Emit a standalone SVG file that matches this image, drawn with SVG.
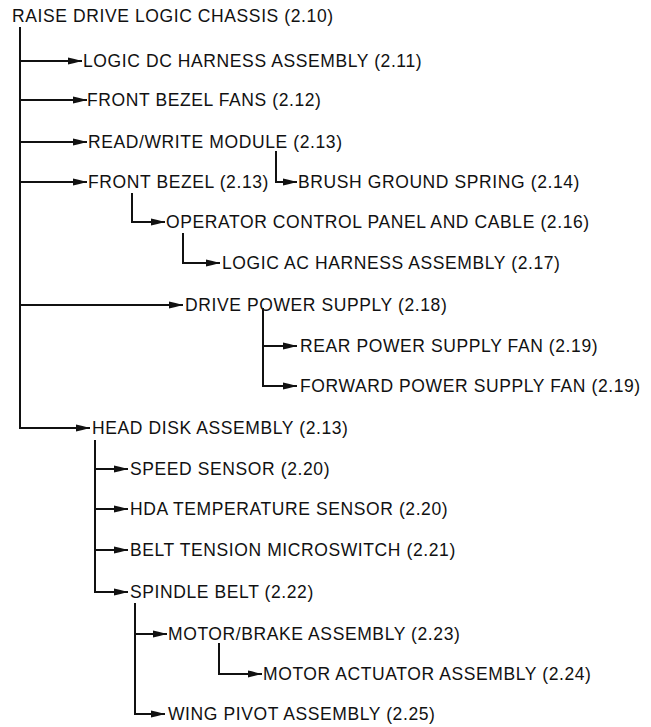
<svg xmlns="http://www.w3.org/2000/svg" width="651" height="727" viewBox="0 0 651 727">
<style>
text{font-family:"Liberation Sans",Arial,Helvetica,sans-serif;font-size:17.5px;letter-spacing:0.6px;fill:#111}
.c path{fill:none;stroke:#111;stroke-width:2;marker-end:url(#ah)}
</style>
<defs>
<marker id="ah" viewBox="0 0 14 8" refX="14" refY="4" markerWidth="14" markerHeight="8" markerUnits="userSpaceOnUse" orient="auto">
<path d="M0,0.6 Q6,1.8 14,4 Q6,6.2 0,7.4 Z" fill="#111"/>
</marker>
</defs>
<rect width="651" height="727" fill="#fff"/>
<g class="c" id="connectors">
<path d="M20,27 V428 H90"/>
<path d="M20,61 H82"/>
<path d="M20,100 H87"/>
<path d="M20,142 H87"/>
<path d="M20,182 H87"/>
<path d="M20,305 H183"/>
<path d="M276,151 V182 H297"/>
<path d="M132,193 V222 H165"/>
<path d="M183,233 V263 H220"/>
<path d="M263,308 V386 H297"/>
<path d="M263,346 H297"/>
<path d="M95,440 V592 H128"/>
<path d="M95,469 H128"/>
<path d="M95,509 H128"/>
<path d="M95,550 H128"/>
<path d="M135,603 V714 H165"/>
<path d="M135,634 H167"/>
<path d="M219,643 V674 H262"/>
</g>
<g id="n-raise"><text x="12" y="22">RAISE DRIVE LOGIC CHASSIS (2.10)</text></g>
<g id="n-logicdc"><text x="83" y="67">LOGIC DC HARNESS ASSEMBLY (2.11)</text></g>
<g id="n-fans"><text x="87" y="106">FRONT BEZEL FANS (2.12)</text></g>
<g id="n-rw"><text x="88" y="148">READ/WRITE MODULE (2.13)</text></g>
<g id="n-bezel"><text x="88" y="188">FRONT BEZEL (2.13)</text></g>
<g id="n-brush"><text x="298" y="188">BRUSH GROUND SPRING (2.14)</text></g>
<g id="n-operator"><text x="166" y="228">OPERATOR CONTROL PANEL AND CABLE (2.16)</text></g>
<g id="n-logicac"><text x="222" y="269">LOGIC AC HARNESS ASSEMBLY (2.17)</text></g>
<g id="n-dps"><text x="185" y="311">DRIVE POWER SUPPLY (2.18)</text></g>
<g id="n-rear"><text x="300" y="352">REAR POWER SUPPLY FAN (2.19)</text></g>
<g id="n-forward"><text x="300" y="392">FORWARD POWER SUPPLY FAN (2.19)</text></g>
<g id="n-hda"><text x="92" y="434">HEAD DISK ASSEMBLY (2.13)</text></g>
<g id="n-speed"><text x="130" y="475">SPEED SENSOR (2.20)</text></g>
<g id="n-temp"><text x="130" y="515">HDA TEMPERATURE SENSOR (2.20)</text></g>
<g id="n-belt"><text x="130" y="556">BELT TENSION MICROSWITCH (2.21)</text></g>
<g id="n-spindle"><text x="130" y="598">SPINDLE BELT (2.22)</text></g>
<g id="n-motor"><text x="168" y="640">MOTOR/BRAKE ASSEMBLY (2.23)</text></g>
<g id="n-actuator"><text x="263" y="680">MOTOR ACTUATOR ASSEMBLY (2.24)</text></g>
<g id="n-wing"><text x="168" y="720">WING PIVOT ASSEMBLY (2.25)</text></g>
</svg>
